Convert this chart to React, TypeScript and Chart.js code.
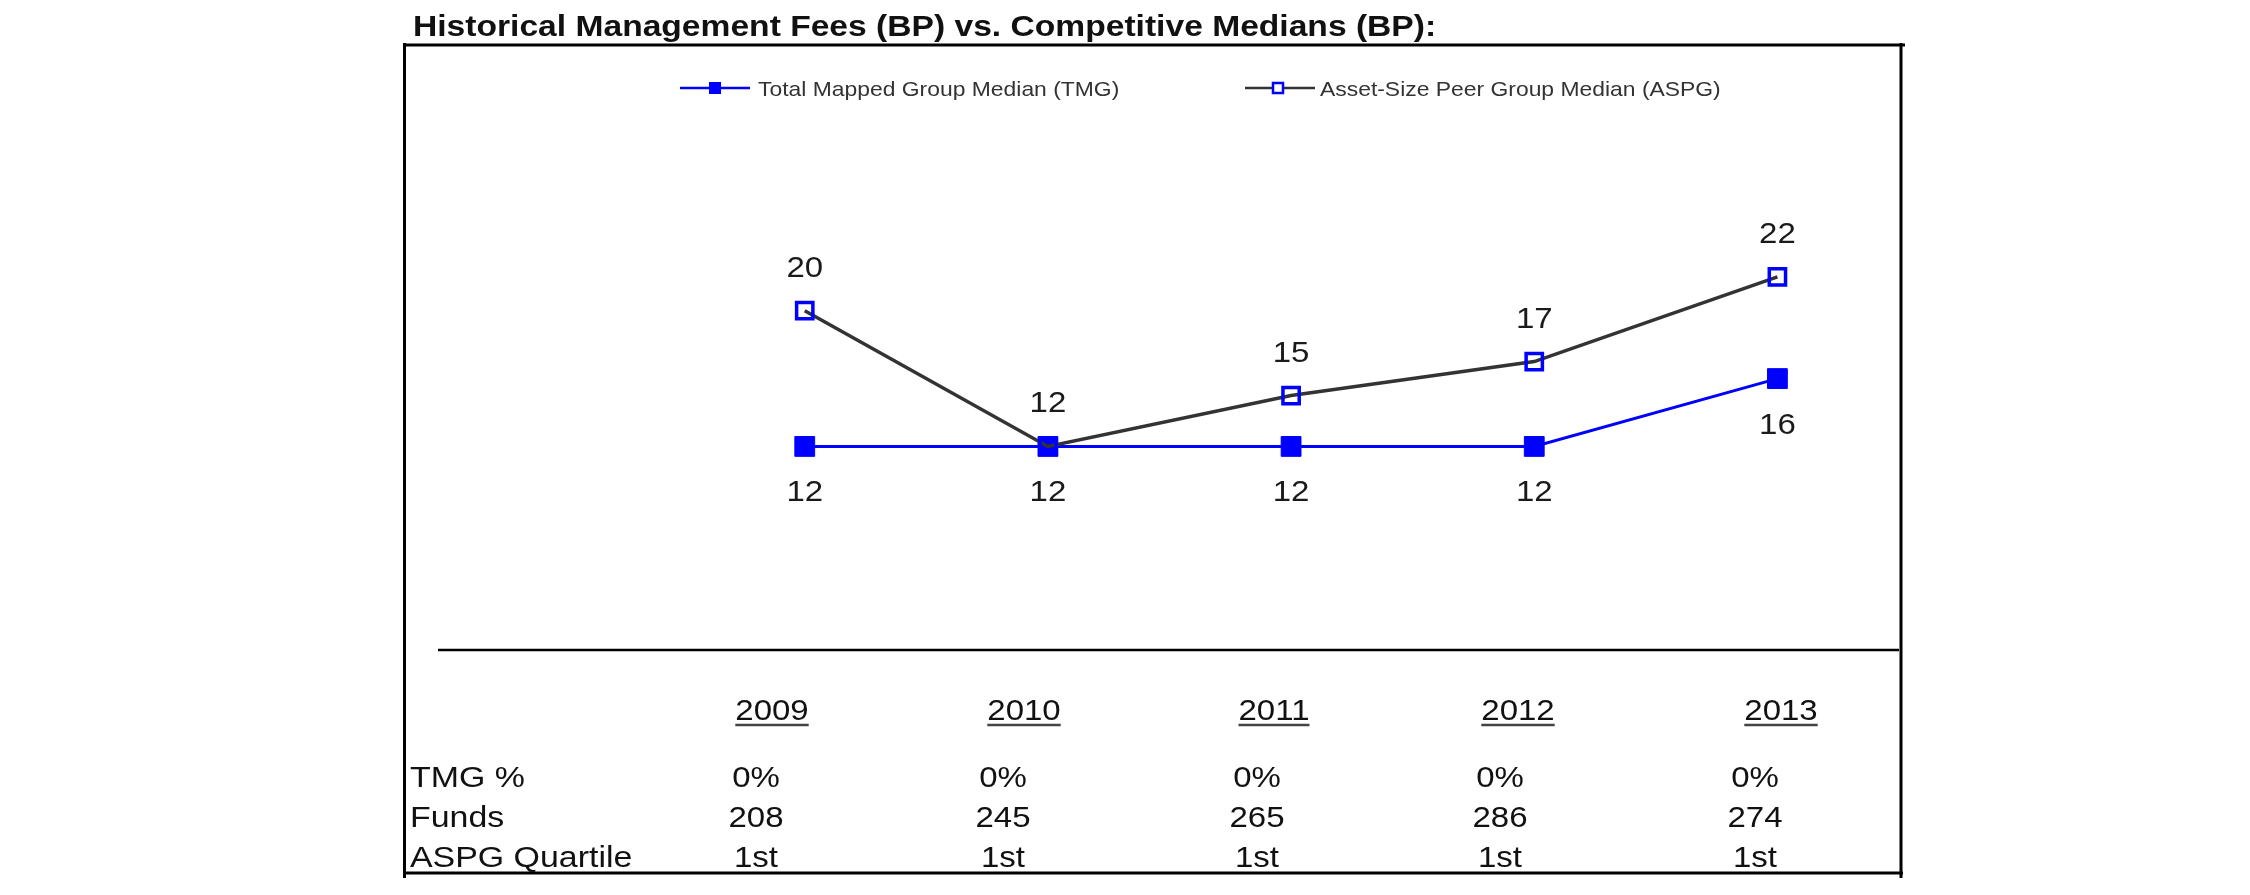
import React, { useEffect, useRef } from 'react';
import { Chart, registerables } from 'chart.js';

Chart.register(...registerables);

const TITLE = 'Historical Management Fees (BP) vs. Competitive Medians (BP):';
const YEARS = [2009, 2010, 2011, 2012, 2013];
const TMG_LABEL = 'Total Mapped Group Median (TMG)';
const ASPG_LABEL = 'Asset-Size Peer Group Median (ASPG)';
const TMG = [12, 12, 12, 12, 16];
const ASPG = [20, 12, 15, 17, 22];
const ROW_LABELS = ['TMG %', 'Funds', 'ASPG Quartile'];
const TMG_PCT = ['0%', '0%', '0%', '0%', '0%'];
const FUNDS = ['208', '245', '265', '286', '274'];
const QUARTILE = ['1st', '1st', '1st', '1st', '1st'];

const BLUE = '#0000ff';
const GRAY = '#333333';
const FONT = '"Liberation Sans", Arial, Helvetica, sans-serif';

// layout (pixels)
const HEADER_X = [772, 1024, 1274, 1518, 1781];
const VALUE_X = [756, 1003, 1257, 1500, 1755];
const ROW_Y = [787, 827, 867];
const HEADER_Y = 720;

function drawText(
  ctx: CanvasRenderingContext2D,
  s: string,
  x: number,
  y: number,
  size: number,
  opts: { bold?: boolean; align?: 'left' | 'center' | 'right'; color?: string; sx?: number } = {}
) {
  const sx = opts.sx ?? 1.1;
  ctx.save();
  ctx.font = `${opts.bold ? 'bold ' : ''}${size}px ${FONT}`;
  ctx.fillStyle = opts.color ?? '#000';
  ctx.textBaseline = 'alphabetic';
  const w = ctx.measureText(s).width * sx;
  let left = x;
  if (opts.align === 'center') left = x - w / 2;
  else if (opts.align === 'right') left = x - w;
  ctx.translate(left, y);
  ctx.scale(sx, 1);
  ctx.textAlign = 'left';
  ctx.fillText(s, 0, 0);
  ctx.restore();
  return { left, width: w };
}

function line(ctx: CanvasRenderingContext2D, x1: number, y1: number, x2: number, y2: number, w: number, c: string) {
  ctx.save();
  ctx.beginPath();
  ctx.moveTo(x1, y1);
  ctx.lineTo(x2, y2);
  ctx.lineWidth = w;
  ctx.strokeStyle = c;
  ctx.stroke();
  ctx.restore();
}

const decorPlugin = {
  id: 'decor',
  beforeDatasetsDraw(chart: any) {
    const ctx = chart.ctx as CanvasRenderingContext2D;
    const a = chart.chartArea;
    // x axis / separator line
    line(ctx, a.left - 2, a.bottom, a.right, a.bottom, 2.5, '#000');
  },
  afterDraw(chart: any) {
    const ctx = chart.ctx as CanvasRenderingContext2D;
    const xs = chart.scales.x;
    const ys = chart.scales.y;

    // title
    drawText(ctx, TITLE, 413, 36, 30, { bold: true, sx: 1.12, color: '#111' });

    // frame
    line(ctx, 403, 45, 1905, 45, 3, '#000');
    line(ctx, 404.5, 43, 404.5, 878, 3, '#000');
    line(ctx, 1901, 43, 1901, 878, 3, '#000');
    line(ctx, 403, 873, 1903, 873, 3, '#000');

    // legend
    const ly = 88;
    const items = [
      { from: 680, to: 750, mx: 715, tx: 758, color: BLUE, filled: true, label: TMG_LABEL },
      { from: 1245, to: 1315, mx: 1278, tx: 1320, color: GRAY, filled: false, label: ASPG_LABEL },
    ];
    items.forEach((it) => {
      line(ctx, it.from, ly, it.to, ly, 2.5, it.color);
      ctx.save();
      if (it.filled) {
        ctx.fillStyle = BLUE;
        ctx.fillRect(it.mx - 6, ly - 6, 12, 12);
      } else {
        ctx.fillStyle = '#fff';
        ctx.fillRect(it.mx - 5, ly - 5, 10, 10);
        ctx.strokeStyle = BLUE;
        ctx.lineWidth = 2.5;
        ctx.strokeRect(it.mx - 5, ly - 5, 10, 10);
      }
      ctx.restore();
      drawText(ctx, it.label, it.tx, ly + 8, 21, { color: '#333', sx: 1.09 });
    });

    // data labels
    YEARS.forEach((yr, i) => {
      const px = xs.getPixelForValue(yr);
      drawText(ctx, String(ASPG[i]), px, ys.getPixelForValue(ASPG[i]) - 34, 30, { align: 'center', color: '#1a1a1a' });
      drawText(ctx, String(TMG[i]), px, ys.getPixelForValue(TMG[i]) + 55, 30, { align: 'center', color: '#1a1a1a' });
    });

    // table headers
    YEARS.forEach((yr, i) => {
      const r = drawText(ctx, String(yr), HEADER_X[i], HEADER_Y, 30, { align: 'center', color: '#111' });
      line(ctx, r.left, HEADER_Y + 5, r.left + r.width, HEADER_Y + 5, 2.5, '#444');
    });

    // table rows
    const rows = [TMG_PCT, FUNDS, QUARTILE];
    rows.forEach((vals, ri) => {
      drawText(ctx, ROW_LABELS[ri], 410, ROW_Y[ri], 30, { color: '#111', sx: 1.13 });
      vals.forEach((v, ci) => {
        drawText(ctx, v, VALUE_X[ci], ROW_Y[ri], 30, { align: 'center', color: '#111' });
      });
    });
  },
};

export default function App() {
  const ref = useRef<HTMLCanvasElement>(null);

  useEffect(() => {
    const canvas = ref.current;
    if (!canvas) return;
    const chart = new Chart(canvas, {
      type: 'line',
      data: {
        datasets: [
          {
            label: TMG_LABEL,
            data: YEARS.map((y, i) => ({ x: y, y: TMG[i] })),
            borderColor: BLUE,
            borderWidth: 3,
            backgroundColor: BLUE,
            pointStyle: 'rect',
            pointRadius: 14,
            pointBorderWidth: 1,
            pointBackgroundColor: BLUE,
            pointBorderColor: BLUE,
            tension: 0,
            order: 2,
          },
          {
            label: ASPG_LABEL,
            data: YEARS.map((y, i) => ({ x: y, y: ASPG[i] })),
            borderColor: GRAY,
            borderWidth: 3.5,
            backgroundColor: 'rgba(0,0,0,0)',
            pointStyle: 'rect',
            pointRadius: 11.5,
            pointBorderWidth: 3.5,
            pointBackgroundColor: 'rgba(0,0,0,0)',
            pointBorderColor: BLUE,
            tension: 0,
            order: 1,
          },
        ],
      },
      options: {
        responsive: false,
        animation: false,
        devicePixelRatio: 1,
        layout: { padding: { left: 440, right: 2250 - 1899, top: 175, bottom: 245 } },
        plugins: { legend: { display: false }, tooltip: { enabled: false }, title: { display: false } },
        scales: {
          x: { type: 'linear', min: 2007.5, max: 2013.5, display: false },
          y: { type: 'linear', min: 0, max: 28, display: false },
        },
        events: [],
      },
      plugins: [decorPlugin],
    } as any);
    return () => chart.destroy();
  }, []);

  return (
    <div style={{ position: 'fixed', left: 0, top: 0, width: 2250, height: 895, background: '#fff' }}>
      <canvas ref={ref} width={2250} height={895} style={{ display: 'block', width: 2250, height: 895 }} />
    </div>
  );
}
